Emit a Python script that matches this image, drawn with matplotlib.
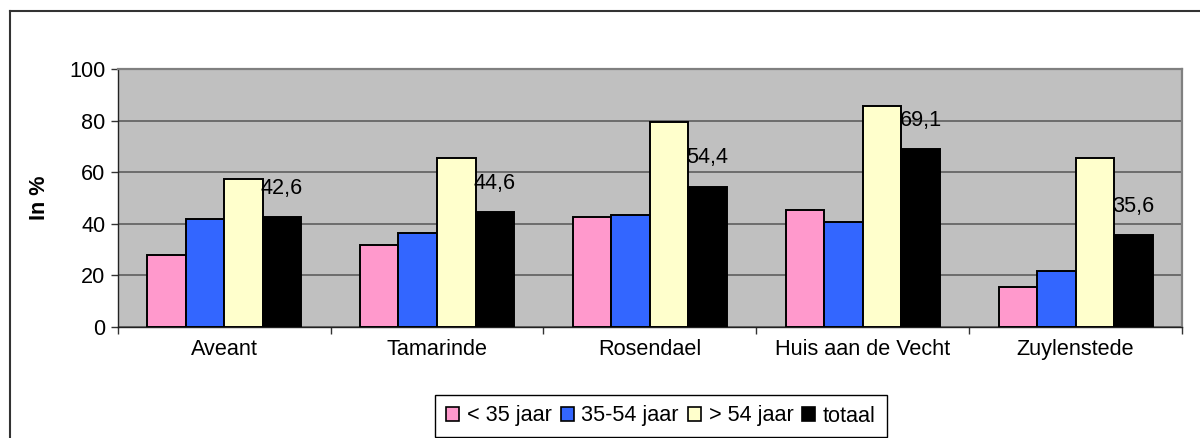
import matplotlib
matplotlib.use("Agg")
import matplotlib.pyplot as plt
import numpy as np
from matplotlib.lines import Line2D

plt.rcParams['font.family'] = ['Liberation Sans', 'DejaVu Sans']

categories = ["Aveant", "Tamarinde", "Rosendael", "Huis aan de Vecht", "Zuylenstede"]
series_names = ["< 35 jaar", "35-54 jaar", "> 54 jaar", "totaal"]
under35 = [27.9, 31.7, 42.6, 45.1, 15.3]
age35_54 = [41.9, 36.4, 43.5, 40.5, 21.7]
over54 = [57.5, 65.3, 79.5, 85.7, 65.3]
totaal = [42.6, 44.6, 54.4, 69.1, 35.6]
colors = ["#FF99CC", "#3366FF", "#FFFFCC", "#000000"]
yticks = [0, 20, 40, 60, 80, 100]

FS = 15.6
W, H = 1200, 438
fig = plt.figure(figsize=(W / 100, H / 100), dpi=100)
ax = fig.add_axes([117.7 / W, 1 - 326.7 / H, (1182 - 117.7) / W, (326.7 - 69) / H])
ax.set_facecolor("#C0C0C0")

series = [under35, age35_54, over54, totaal]
x = np.arange(len(categories)) + 0.5
bw = 0.181
for i, (vals, col, name) in enumerate(zip(series, colors, series_names)):
    pos = x + (i - 1.5) * bw
    bars = ax.bar(pos, vals, width=bw, color=col, edgecolor="black", linewidth=1.4,
                  label=name, zorder=3)
    if i == 3:
        for b, v in zip(bars, vals):
            ax.annotate(f"{v:.1f}".replace(".", ","),
                        (b.get_x() + b.get_width() / 2, v),
                        xytext=(0, 13), textcoords="offset points",
                        ha="center", va="bottom", fontsize=FS, zorder=5)

ax.set_xlim(0, len(categories))
ax.set_ylim(0, 100)
ax.set_yticks(yticks)
ax.set_yticklabels([str(t) for t in yticks], fontsize=FS)
ax.yaxis.grid(True, color="#666666", linewidth=1.3, zorder=1)
ax.set_axisbelow(True)
ax.set_xticks(x)
ax.set_xticklabels(categories, fontsize=FS)
ax.set_xticks(np.arange(len(categories) + 1), minor=True)
ax.tick_params(axis="x", which="major", length=0, pad=9)
ax.tick_params(axis="x", which="minor", length=5, width=1, direction="out", color="#333333")
ax.tick_params(axis="y", length=5, width=1, pad=4, color="#333333")

ax.set_ylabel("In %", fontsize=FS, fontweight="bold")
ax.yaxis.set_label_coords(-0.064, 0.5)

for s in ["left", "bottom"]:
    ax.spines[s].set_color("#222222")
    ax.spines[s].set_linewidth(1.0)
for s in ["top", "right"]:
    ax.spines[s].set_color("#808080")
    ax.spines[s].set_linewidth(1.6)

leg = fig.legend(loc="center", bbox_to_anchor=(661 / W, 1 - 416 / H), ncol=4,
                 fontsize=FS, frameon=True, fancybox=False, edgecolor="black",
                 framealpha=1, handlelength=0.6, handleheight=0.6, handletextpad=0.35,
                 columnspacing=0.42, borderpad=0.5, borderaxespad=0)
leg.get_frame().set_linewidth(1.0)
for p in leg.get_patches():
    p.set_linewidth(1.2)

# outer chart frame
fig.add_artist(Line2D([10 / W, 10 / W], [0, 1 - 11 / H], color="#333333", linewidth=1.5,
                      transform=fig.transFigure))
fig.add_artist(Line2D([10 / W, 1], [1 - 11 / H, 1 - 11 / H], color="#333333", linewidth=1.5,
                      transform=fig.transFigure))

fig.savefig("out.png", dpi=100)
